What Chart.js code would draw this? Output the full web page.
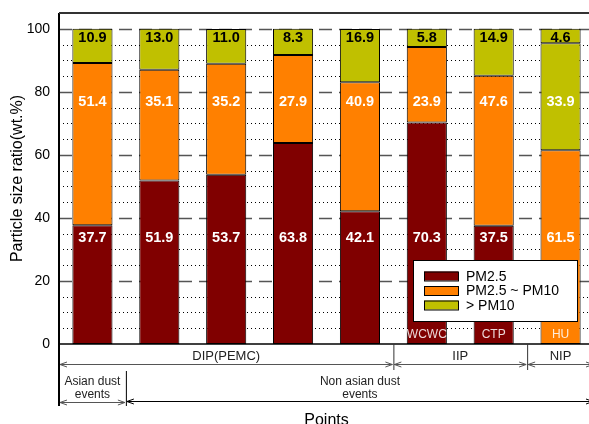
<!DOCTYPE html>
<html>
<head>
<meta charset="utf-8">
<title>Particle size ratio</title>
<script src="https://cdn.jsdelivr.net/npm/chart.js@4.4.0/dist/chart.umd.min.js"></script>
<style>
  html, body { margin: 0; padding: 0; background: #fff; }
  #wrap { width: 589px; height: 424px; overflow: hidden; }
</style>
</head>
<body>
<div id="wrap"><canvas id="myChart" width="600" height="424"></canvas></div>
<script>
'use strict';

// Sampling points and size fractions (wt.%)
const points = ['', '', '', '', '', 'WCWC', 'CTP', 'HU'];
const pm25 = [37.7, 51.9, 53.7, 63.8, 42.1, 70.3, 37.5, 61.5];
const pm25to10 = [51.4, 35.1, 35.2, 27.9, 40.9, 23.9, 47.6, 33.9];
const overPm10 = [10.9, 13.0, 11.0, 8.3, 16.9, 5.8, 14.9, 4.6];
const seriesNames = ['PM2.5', 'PM2.5 ~ PM10', '> PM10'];
const yTicks = [0, 20, 40, 60, 80, 100];

// Groups printed under the axis
const siteGroups = ['DIP(PEMC)', 'IIP', 'NIP'];
const siteSpans = [[0, 4], [5, 6], [7, 7]];
const eventGroups = [['Asian dust', 'events'], ['Non asian dust', 'events']];
const eventSpans = [[0, 0], [1, 7]];

// HU segments are coloured one class up
const colourShift = [0, 0, 0, 0, 0, 0, 0, 1];

const palette = ['#800000', '#FF8000', '#C0C000'];
const labelLevels = [33.6, 76.8, 97.1];
const FONT = '"Liberation Sans", Arial, sans-serif';

function segColour(ctx) {
   return palette[Math.min(ctx.datasetIndex + colourShift[ctx.dataIndex], 2)];
}

function arrowLine(ctx, x1, x2, y, colour) {
   ctx.strokeStyle = colour;
   ctx.lineWidth = 1;
   ctx.beginPath();
   ctx.moveTo(x1, y); ctx.lineTo(x2, y);
   ctx.moveTo(x1 + 7, y - 2.5); ctx.lineTo(x1, y); ctx.lineTo(x1 + 7, y + 2.5);
   ctx.moveTo(x2 - 7, y - 2.5); ctx.lineTo(x2, y); ctx.lineTo(x2 - 7, y + 2.5);
   ctx.stroke();
}

// Dashed major and dotted minor grid lines behind the bars
const gridLines = {
   id: 'gridLines',
   beforeDatasetsDraw(chart) {
      const ctx = chart.ctx, y = chart.scales.y, { left, right } = chart.chartArea;
      ctx.save();
      for (let v = 5; v <= 100; v += 5) {
         const py = Math.round(y.getPixelForValue(v)) + 0.5;
         if (v % 20 === 0) {
            ctx.setLineDash([13, 7]); ctx.strokeStyle = '#555'; ctx.lineWidth = 1.5;
         } else {
            ctx.setLineDash([1, 3]); ctx.strokeStyle = '#000'; ctx.lineWidth = 1;
         }
         ctx.beginPath(); ctx.moveTo(left, py); ctx.lineTo(right, py); ctx.stroke();
      }
      ctx.restore();
   }
};

// Values inside the segments and point names at the bar feet
const barLabels = {
   id: 'barLabels',
   afterDatasetsDraw(chart) {
      const ctx = chart.ctx, y = chart.scales.y;
      ctx.save();
      ctx.textAlign = 'center';
      ctx.textBaseline = 'middle';
      chart.data.datasets.forEach((ds, d) => {
         const meta = chart.getDatasetMeta(d);
         ctx.font = 'bold 14.5px ' + FONT;
         ctx.fillStyle = d === 2 ? '#000' : '#fff';
         meta.data.forEach((bar, i) => {
            ctx.fillText(ds.data[i].toFixed(1), bar.x, y.getPixelForValue(labelLevels[d]));
         });
      });
      ctx.font = '12px ' + FONT;
      ctx.fillStyle = 'rgba(255,255,255,0.85)';
      chart.getDatasetMeta(0).data.forEach((bar, i) => {
         ctx.fillText(points[i], bar.x, chart.chartArea.bottom - 9);
      });
      ctx.restore();
   }
};

// Frame, legend box and the group rows under the axis
const frame = {
   id: 'frame',
   afterDraw(chart) {
      const ctx = chart.ctx, a = chart.chartArea;
      const band = (a.right - a.left) / points.length;
      const edge = i => a.left + band * i;
      ctx.save();

      // axes
      ctx.strokeStyle = '#000';
      ctx.lineWidth = 2;
      ctx.beginPath(); ctx.moveTo(a.left, a.top); ctx.lineTo(a.left, 406); ctx.stroke();
      ctx.strokeStyle = '#333';
      ctx.beginPath(); ctx.moveTo(a.left, a.top); ctx.lineTo(chart.width, a.top); ctx.stroke();
      ctx.strokeStyle = '#000';
      ctx.lineWidth = 1.5;
      ctx.beginPath(); ctx.moveTo(a.left, a.bottom); ctx.lineTo(chart.width, a.bottom); ctx.stroke();

      // legend
      const lx = a.right - 181, ly = 260;
      ctx.fillStyle = '#fff';
      ctx.fillRect(lx, ly, 164, 61);
      ctx.lineWidth = 1;
      ctx.strokeStyle = '#000';
      ctx.strokeRect(lx + 0.5, ly + 0.5, 164, 61);
      ctx.font = '14px ' + FONT;
      ctx.textAlign = 'left';
      ctx.textBaseline = 'middle';
      seriesNames.forEach((name, k) => {
         const ry = ly + 16 + k * 14.5;
         ctx.fillStyle = palette[k];
         ctx.fillRect(lx + 11, ry - 4.5, 34, 9);
         ctx.strokeRect(lx + 11.5, ry - 4, 34, 9);
         ctx.fillStyle = '#000';
         ctx.fillText(name, lx + 53, ry + 1);
      });

      // site groups
      ctx.textAlign = 'center';
      ctx.font = '13px ' + FONT;
      siteGroups.forEach((name, g) => {
         const x1 = edge(siteSpans[g][0]), x2 = edge(siteSpans[g][1] + 1);
         ctx.fillStyle = '#222';
         ctx.fillText(name, (x1 + x2) / 2, 356);
         arrowLine(ctx, x1 + 1, x2 - 1, 364.5, '#555');
         if (g > 0) {
            ctx.strokeStyle = '#333';
            ctx.beginPath(); ctx.moveTo(x1 + 0.5, a.bottom); ctx.lineTo(x1 + 0.5, 370); ctx.stroke();
         }
      });

      // event groups
      ctx.font = '12px ' + FONT;
      eventGroups.forEach((lines, g) => {
         const x1 = edge(eventSpans[g][0]), x2 = edge(eventSpans[g][1] + 1);
         ctx.fillStyle = '#222';
         ctx.fillText(lines[0], (x1 + x2) / 2, 382);
         ctx.fillText(lines[1], (x1 + x2) / 2, 395);
         arrowLine(ctx, x1 + 1, x2 - 1, g === 0 ? 402.5 : 401.5, g === 0 ? '#555' : '#000');
         if (g > 0) {
            ctx.strokeStyle = '#000';
            ctx.beginPath(); ctx.moveTo(x1 + 0.5, 371); ctx.lineTo(x1 + 0.5, 406); ctx.stroke();
         }
      });

      // x title
      ctx.fillStyle = '#000';
      ctx.font = '16px ' + FONT;
      ctx.fillText('Points', (a.left + a.right) / 2, 421);
      ctx.restore();
   }
};

new Chart(document.getElementById('myChart'), {
   type: 'bar',
   data: {
      labels: points,
      datasets: [pm25, pm25to10, overPm10].map((values, d) => ({
         label: seriesNames[d],
         data: values,
         backgroundColor: segColour,
         borderColor: '#000',
         borderWidth: 1,
         borderSkipped: false,
         barPercentage: 0.6,
         categoryPercentage: 1
      }))
   },
   options: {
      responsive: false,
      animation: false,
      layout: { padding: { top: 13, right: 6, left: 0, bottom: 0 } },
      plugins: {
         legend: { display: false },
         tooltip: { enabled: false }
      },
      scales: {
         x: {
            stacked: true,
            grid: { display: false },
            border: { display: false },
            ticks: { display: false },
            afterFit(scale) { scale.height = 80; }
         },
         y: {
            stacked: true,
            min: 0,
            max: 105,
            grid: { display: false, drawTicks: false },
            border: { display: false },
            afterBuildTicks(scale) { scale.ticks = yTicks.map(v => ({ value: v })); },
            ticks: { color: '#000', padding: 9, font: { family: FONT, size: 14 } },
            title: {
               display: true,
               text: 'Particle size ratio(wt.%)',
               color: '#000',
               padding: { top: 8, bottom: 0 },
               font: { family: FONT, size: 16 }
            },
            afterFit(scale) {
               scale.width = 59;
               scale.paddingTop = 0;
               scale.paddingBottom = 0;
            }
         }
      }
   },
   plugins: [gridLines, barLabels, frame]
});
</script>
</body>
</html>
